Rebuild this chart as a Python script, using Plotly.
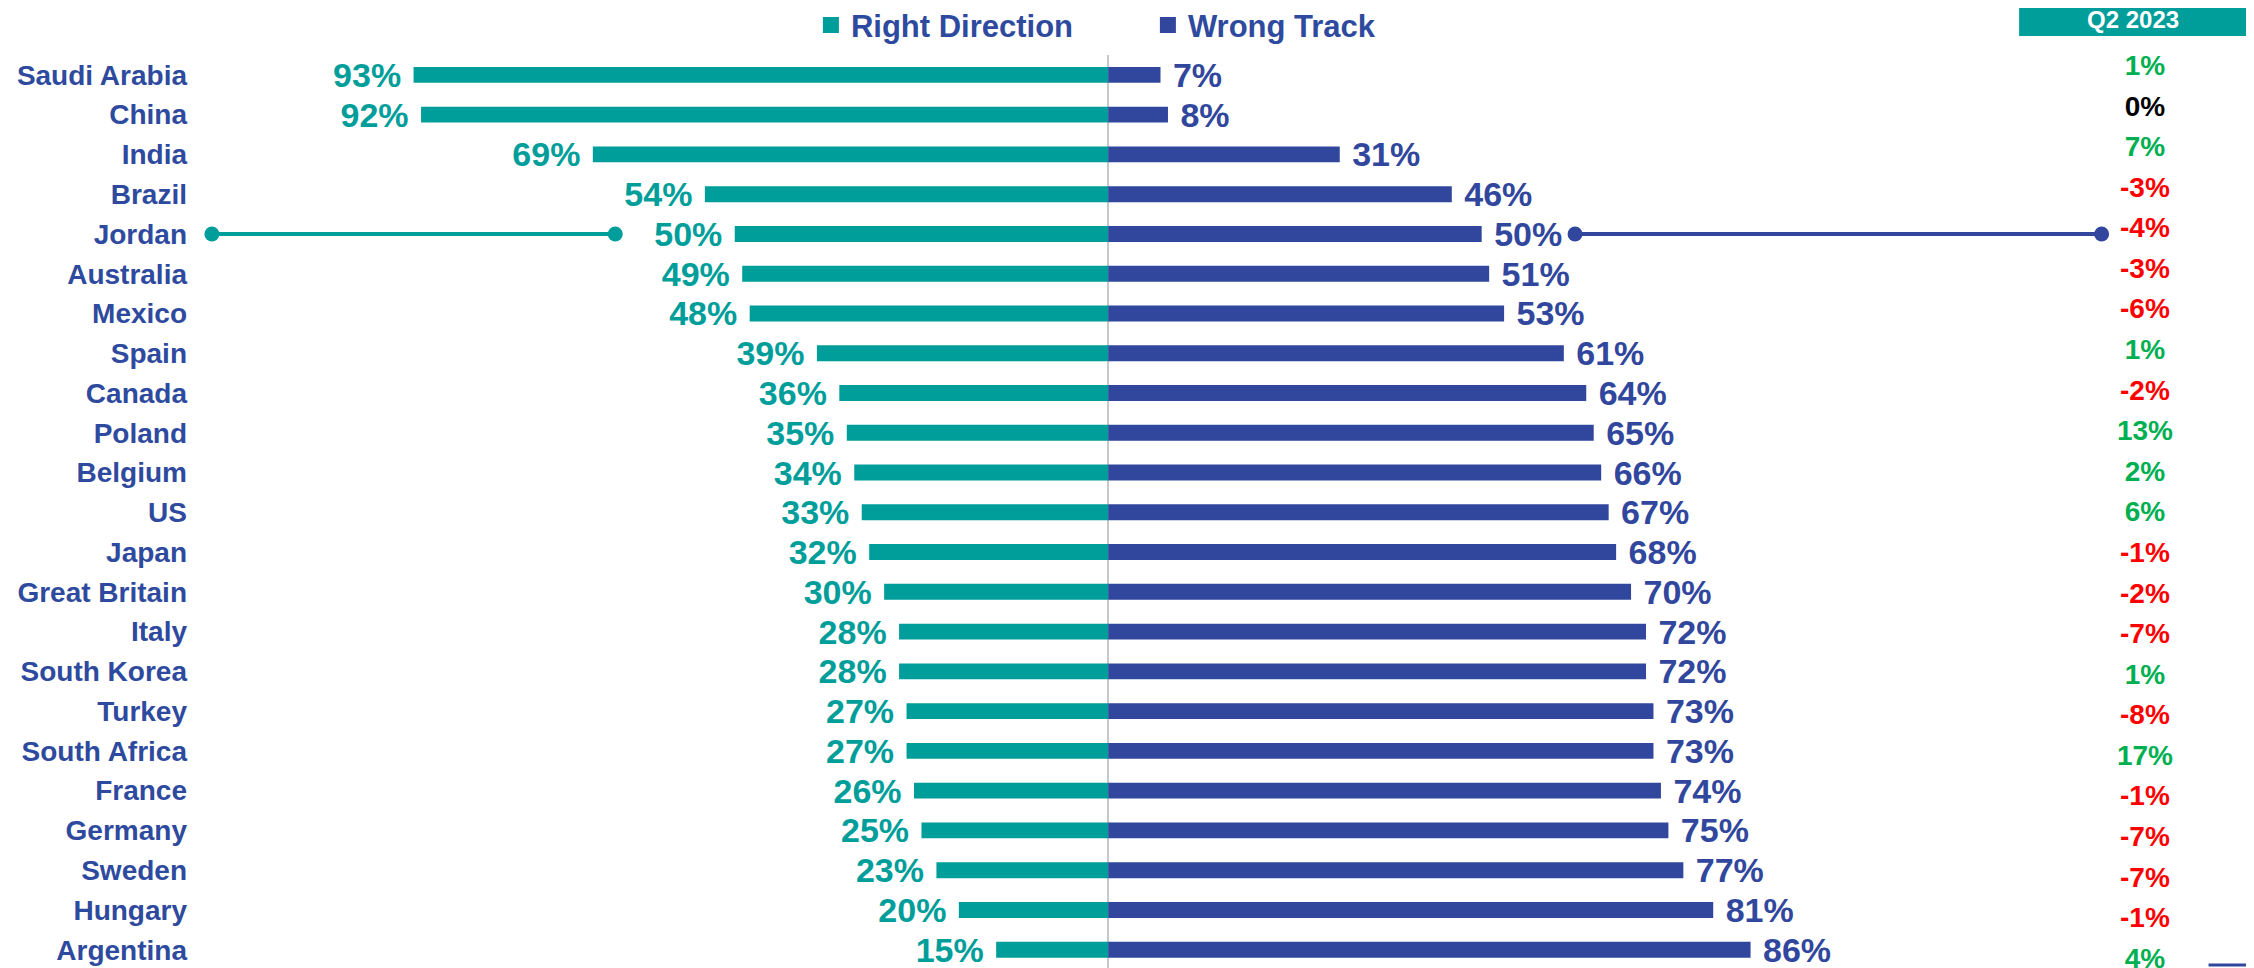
import plotly.graph_objects as go

# ======================================
# DATA
# ======================================

countries = [
    "Saudi Arabia", "China", "India", "Brazil", "Jordan", "Australia",
    "Mexico", "Spain", "Canada", "Poland", "Belgium", "US", "Japan",
    "Great Britain", "Italy", "South Korea", "Turkey", "South Africa",
    "France", "Germany", "Sweden", "Hungary", "Argentina",
]

right_direction = [
    93, 92, 69, 54, 50, 49, 48, 39, 36, 35, 34, 33, 32,
    30, 28, 28, 27, 27, 26, 25, 23, 20, 15,
]

wrong_track = [
    7, 8, 31, 46, 50, 51, 53, 61, 64, 65, 66, 67, 68,
    70, 72, 72, 73, 73, 74, 75, 77, 81, 86,
]

change_since_q2 = [
    1, 0, 7, -3, -4, -3, -6, 1, -2, 13, 2, 6, -1,
    -2, -7, 1, -8, 17, -1, -7, -7, -1, 4,
]

header_label = "Q2 2023"

# callout lines next to the highlighted country
highlight_country = "Jordan"
callout_left = [-120, -66]
callout_right = [62.5, 133]

# ======================================
# STYLE
# ======================================

TEAL = "#009E9A"
NAVY = "#31479D"
GREEN = "#00B050"
RED = "#FF0000"
FONT = "Arial, Liberation Sans, sans-serif"
NBSP = "\u00a0"

CHANGE_X = 138.8

# the page body adds an 8px margin around the figure,
# so the figure is sized to fill the rest of the window
FIG_W = 2246
FIG_H = 960


def change_color(v):

    if v > 0:

        return GREEN

    if v < 0:

        return RED

    return "#000000"


# ======================================
# FIGURE
# ======================================

fig = go.Figure()

fig.add_trace(
    go.Bar(
        y=countries,
        x=[-v for v in right_direction],
        orientation="h",
        width=0.4,
        marker=dict(color=TEAL, line=dict(width=0)),
        text=[f"{v}%{NBSP}" for v in right_direction],
        textposition="outside",
        constraintext="none",
        textfont=dict(family=FONT, size=34, color=TEAL, weight="bold"),
        cliponaxis=False,
        showlegend=False,
        name="Right Direction",
    )
)

fig.add_trace(
    go.Bar(
        y=countries,
        x=wrong_track,
        orientation="h",
        width=0.4,
        marker=dict(color=NAVY, line=dict(width=0)),
        text=[f"{NBSP}{v}%" for v in wrong_track],
        textposition="outside",
        constraintext="none",
        textfont=dict(family=FONT, size=34, color=NAVY, weight="bold"),
        cliponaxis=False,
        showlegend=False,
        name="Wrong Track",
    )
)

# legend entries with square markers
for label, color in [("Right Direction", TEAL), ("Wrong Track", NAVY)]:

    fig.add_trace(
        go.Scatter(
            x=[None],
            y=[None],
            mode="markers",
            marker=dict(symbol="square", size=16, color=color),
            name=label,
        )
    )

# callout lines on the highlighted row
for xs, color in [(callout_left, TEAL), (callout_right, NAVY)]:

    fig.add_trace(
        go.Scatter(
            x=xs,
            y=[highlight_country, highlight_country],
            mode="lines+markers",
            line=dict(color=color, width=4),
            marker=dict(color=color, size=15),
            showlegend=False,
            cliponaxis=False,
            hoverinfo="skip",
        )
    )

# change column (own axis, slightly different row pitch)
fig.add_trace(
    go.Scatter(
        x=[CHANGE_X] * len(change_since_q2),
        y=list(range(len(change_since_q2))),
        yaxis="y2",
        mode="text",
        text=[f"{v}%" for v in change_since_q2],
        textposition="middle center",
        textfont=dict(
            family=FONT,
            size=28,
            color=[change_color(v) for v in change_since_q2],
            weight="bold",
        ),
        cliponaxis=False,
        showlegend=False,
        hoverinfo="skip",
    )
)

# ======================================
# LAYOUT
# ======================================

fig.update_layout(
    width=FIG_W,
    height=FIG_H,
    margin=dict(l=180, r=0, t=47, b=0, autoexpand=False),
    paper_bgcolor="white",
    plot_bgcolor="white",
    barmode="relative",
    font=dict(family=FONT),
    xaxis=dict(
        range=[-123.2, 153.4],
        showgrid=False,
        showticklabels=False,
        zeroline=True,
        zerolinecolor="#C8C8C8",
        zerolinewidth=2,
        fixedrange=True,
    ),
    yaxis=dict(
        type="category",
        categoryorder="array",
        categoryarray=countries,
        range=[22.46, -0.5],
        showgrid=False,
        zeroline=False,
        ticks="",
        tickfont=dict(family=FONT, size=28, color="#2E4A9E", weight="bold"),
    ),
    yaxis2=dict(
        overlaying="y",
        range=[22.18, -0.321],
        visible=False,
    ),
    legend=dict(
        orientation="h",
        x=0.3015,
        xanchor="left",
        y=1.0325,
        yanchor="middle",
        entrywidth=292,
        font=dict(family=FONT, size=31, color="#2E4A9E", weight="bold"),
        bgcolor="rgba(0,0,0,0)",
        itemsizing="trace",
    ),
    shapes=[
        dict(
            type="rect",
            xref="paper",
            yref="paper",
            x0=0.8863,
            x1=0.9966,
            y0=1.0208,
            y1=1.07,
            fillcolor=TEAL,
            line=dict(width=0),
            layer="above",
        ),
        dict(
            type="line",
            xref="paper",
            yref="paper",
            x0=0.978,
            x1=1.0,
            y0=0.0033,
            y1=0.0033,
            line=dict(color=NAVY, width=3),
        ),
    ],
    annotations=[
        dict(
            text=header_label,
            xref="paper",
            yref="paper",
            x=0.9414,
            y=1.0385,
            xanchor="center",
            yanchor="middle",
            showarrow=False,
            font=dict(family=FONT, size=24, color="white", weight="bold"),
        ),
    ],
)

fig.write_html("out.html")
